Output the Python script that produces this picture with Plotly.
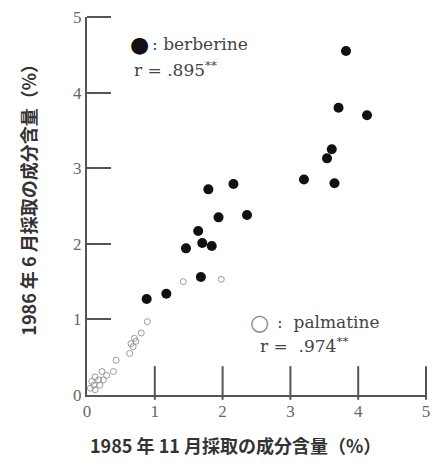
import plotly.graph_objects as go

# berberine (filled)
berberine_x = [3.82, 3.71, 4.13, 3.61, 3.54, 3.20, 3.65, 1.79, 2.16, 1.94, 2.36, 1.64, 1.70, 1.84, 1.46, 1.68, 1.17, 0.88]
berberine_y = [4.55, 3.80, 3.70, 3.25, 3.13, 2.85, 2.80, 2.72, 2.79, 2.35, 2.38, 2.17, 2.01, 1.97, 1.94, 1.56, 1.34, 1.27]

# palmatine (open)
palmatine_x = [1.42, 1.98, 0.89, 0.80, 0.70, 0.72, 0.65, 0.68, 0.63, 0.43, 0.39, 0.22, 0.29, 0.12, 0.17, 0.24, 0.07, 0.10, 0.19, 0.05, 0.12]
palmatine_y = [1.50, 1.53, 0.97, 0.82, 0.75, 0.71, 0.68, 0.64, 0.55, 0.46, 0.31, 0.31, 0.26, 0.24, 0.20, 0.20, 0.18, 0.13, 0.13, 0.09, 0.07]

tick_vals = [0, 1, 2, 3, 4, 5]
x_title = "1985 年 11 月採取の成分含量（%）"
y_title = "1986 年 6 月採取の成分含量（%）"

W, H = 436, 467
l, r, t, b = 87, 6, 17, 72
pw, ph = W - l - r, H - t - b
TICK = 24  # px

fig = go.Figure()

n = len(tick_vals) - 1
# inward x-axis tick marks as vertical line markers
xt_half = TICK / 2 / ph * 5
fig.add_trace(go.Scatter(
    x=tick_vals[1:], y=[xt_half] * n, mode="markers",
    marker=dict(symbol="line-ns", size=TICK, line=dict(color="#555555", width=2)),
    showlegend=False, hoverinfo="skip", cliponaxis=False))

fig.add_trace(go.Scatter(
    x=palmatine_x, y=palmatine_y, mode="markers",
    marker=dict(size=6, color="rgba(255,255,255,0)", line=dict(color="#9a9a9a", width=1)),
    showlegend=False, hoverinfo="skip"))
fig.add_trace(go.Scatter(
    x=berberine_x, y=berberine_y, mode="markers",
    marker=dict(size=10, color="#111111", line=dict(width=0)),
    showlegend=False, hoverinfo="skip"))

axis_common = dict(
    range=[0, 5], tickvals=tick_vals, ticks="", showline=True, linecolor="#555555", linewidth=2,
    showgrid=False, zeroline=False,
    tickfont=dict(family="Liberation Serif", size=17, color="#666666"),
)
fig.update_xaxes(**axis_common)
fig.update_yaxes(**axis_common)

serif = "DejaVu Serif"
cjk = "Noto Sans CJK JP"
txt = dict(family=serif, size=17, color="#444444")

def px_x(p):
    return (p - l) / pw * 5

def px_y(p):
    return (H - b - p) / ph * 5

annotations = [
    dict(x=px_x(140), y=px_y(44), text="●", font=dict(family="DejaVu Sans", size=22, color="#111111"),
         xanchor="center", yanchor="middle"),
    dict(x=px_x(151), y=px_y(44), text=": berberine", font=txt, xanchor="left", yanchor="middle"),
    dict(x=px_x(133), y=px_y(69), text="r = .895<sup>**</sup>", font=txt, xanchor="left", yanchor="middle"),
    dict(x=px_x(262), y=px_y(322), text="○", font=dict(family="DejaVu Sans", size=22, color="#888888"),
         xanchor="center", yanchor="middle"),
    dict(x=px_x(277), y=px_y(322), text=":  palmatine", font=txt, xanchor="left", yanchor="middle"),
    dict(x=px_x(260), y=px_y(345), text="r =  .974<sup>**</sup>", font=txt, xanchor="left", yanchor="middle"),
]
# inward y-axis tick marks as thin filled annotation boxes anchored at the axis
for v in tick_vals[1:]:
    annotations.append(dict(x=0, y=v, text=" ", width=TICK, height=2, bgcolor="#555555",
                            borderpad=0, borderwidth=0, font=dict(size=2),
                            xanchor="left", yanchor="middle"))
for a in annotations:
    a.update(xref="x", yref="y", showarrow=False)

annotations += [
    dict(x=(237 - l) / pw, y=(H - 445 - b) / ph, xref="paper", yref="paper", text=x_title,
         showarrow=False, font=dict(family=cjk, size=18, color="#333333", weight="bold"),
         xanchor="center", yanchor="middle"),
    dict(x=(27 - l) / pw, y=(H - 195 - b) / ph, xref="paper", yref="paper", text=y_title,
         showarrow=False, textangle=-90, font=dict(family=cjk, size=18, color="#333333", weight="bold"),
         xanchor="center", yanchor="middle"),
]

fig.update_layout(
    width=W, height=H,
    margin=dict(l=l, r=r, t=t, b=b),
    plot_bgcolor="white", paper_bgcolor="white",
    annotations=annotations,
)

fig.write_html("out.html", config={"displayModeBar": False},
               post_script="document.body.style.margin='0';")
